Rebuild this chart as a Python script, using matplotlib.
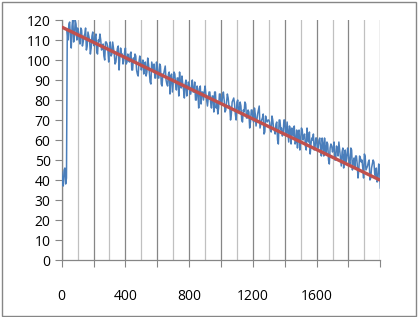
import numpy as np
import matplotlib
matplotlib.use("Agg")
import matplotlib.pyplot as plt
from matplotlib.patches import Rectangle

# category index (every 5th sample)
x_index = np.arange(0, 2001, 5)

signal = [
    44, 40, 37, 45, 46, 38, 41, 115, 110, 118, 119, 111, 106, 117, 121, 109, 112, 120, 118, 110,
    116, 114, 110, 108, 116, 115, 107, 109, 112, 113, 116, 105, 107, 114, 112, 110, 103, 106, 112, 114,
    108, 107, 112, 113, 104, 103, 110, 109, 113, 110, 105, 106, 108, 102, 100, 109, 109, 108, 105, 99,
    107, 109, 102, 103, 109, 106, 103, 98, 99, 103, 106, 107, 95, 101, 106, 103, 103, 98, 100, 104,
    106, 98, 99, 103, 100, 99, 103, 104, 95, 95, 101, 99, 103, 102, 95, 93, 92, 99, 102, 100,
    95, 98, 100, 93, 98, 99, 92, 94, 101, 98, 94, 89, 88, 99, 97, 95, 98, 91, 91, 99,
    97, 91, 91, 98, 97, 88, 87, 93, 93, 95, 97, 90, 88, 87, 93, 94, 83, 92, 93, 84,
    89, 94, 93, 88, 85, 91, 91, 82, 94, 88, 86, 92, 88, 85, 81, 88, 90, 82, 86, 89,
    88, 83, 83, 87, 90, 84, 84, 89, 80, 80, 87, 84, 76, 86, 87, 78, 84, 84, 80, 84,
    87, 83, 80, 77, 81, 84, 84, 79, 76, 82, 82, 74, 84, 84, 76, 79, 73, 76, 83, 83,
    78, 78, 82, 84, 80, 74, 75, 79, 83, 81, 77, 77, 70, 73, 79, 80, 81, 78, 73, 70,
    79, 80, 74, 74, 79, 77, 70, 69, 75, 74, 79, 78, 71, 71, 75, 74, 66, 69, 75, 75,
    71, 69, 76, 73, 67, 70, 73, 75, 77, 66, 68, 70, 71, 73, 63, 64, 72, 70, 69, 70,
    70, 69, 65, 64, 72, 70, 66, 65, 63, 68, 69, 60, 58, 70, 70, 65, 66, 62, 63, 70,
    70, 63, 63, 69, 64, 59, 67, 65, 58, 66, 65, 62, 67, 58, 59, 65, 56, 64, 65, 55,
    60, 66, 65, 60, 62, 63, 57, 55, 66, 60, 59, 64, 53, 58, 61, 60, 63, 55, 56, 61,
    61, 55, 56, 60, 61, 56, 52, 61, 58, 52, 61, 56, 53, 59, 58, 50, 48, 56, 58, 57,
    54, 56, 59, 50, 50, 57, 56, 52, 59, 55, 51, 47, 54, 56, 46, 52, 55, 49, 51, 56,
    53, 49, 48, 56, 55, 45, 49, 51, 46, 52, 52, 48, 41, 45, 52, 51, 49, 50, 46, 41,
    53, 52, 45, 46, 47, 49, 50, 40, 41, 46, 48, 50, 49, 43, 42, 46, 39, 40, 48, 47,
    36,
]

trend_x = [0, 2000]
trend_y = [116.5, 39.9]

x_tick_values = list(range(0, 2001, 200))
x_tick_labels = ["0", "", "400", "", "800", "", "1200", "", "1600", "", ""]
y_tick_values = list(range(0, 121, 10))

plt.rcParams['font.family'] = ['Open Sans', 'DejaVu Sans']

fig = plt.figure(figsize=(4.18, 3.17), dpi=100)
ax = fig.add_axes([0.1476, 0.1798, 0.7622, 0.757])

ax.plot(x_index, signal, color='#4A7EBB', linewidth=1.1, zorder=3)
ax.plot(trend_x, trend_y, color='#C0504D', linewidth=2.4, zorder=4,
        solid_capstyle='butt')

ax.set_xlim(0, 2000)
ax.set_ylim(0, 120)
ax.set_xticks(x_tick_values)
ax.set_xticklabels(x_tick_labels)
ax.set_xticks(list(range(100, 2000, 200)), minor=True)
ax.set_yticks(y_tick_values)

ax.grid(axis='x', which='major', color='#868686', linewidth=0.9)
ax.grid(axis='x', which='minor', color='#C0C0C0', linewidth=0.9)
ax.set_axisbelow(True)

for s in ['top', 'right']:
    ax.spines[s].set_visible(False)
for s in ['left', 'bottom']:
    ax.spines[s].set_color('#868686')
    ax.spines[s].set_linewidth(0.9)

ax.tick_params(axis='x', which='major', direction='out', length=5,
               color='#868686', pad=16, labelsize=10, labelcolor='black')
ax.tick_params(axis='x', which='minor', length=0)
ax.tick_params(axis='y', direction='out', length=5, color='#868686',
               pad=3, labelsize=10, labelcolor='black')

fig.patches.append(Rectangle((2 / 418, 1 / 317), 414 / 418, 314 / 317,
                             transform=fig.transFigure, fill=False,
                             edgecolor='#868686', linewidth=1.0))

fig.savefig('out.png', dpi=100)
